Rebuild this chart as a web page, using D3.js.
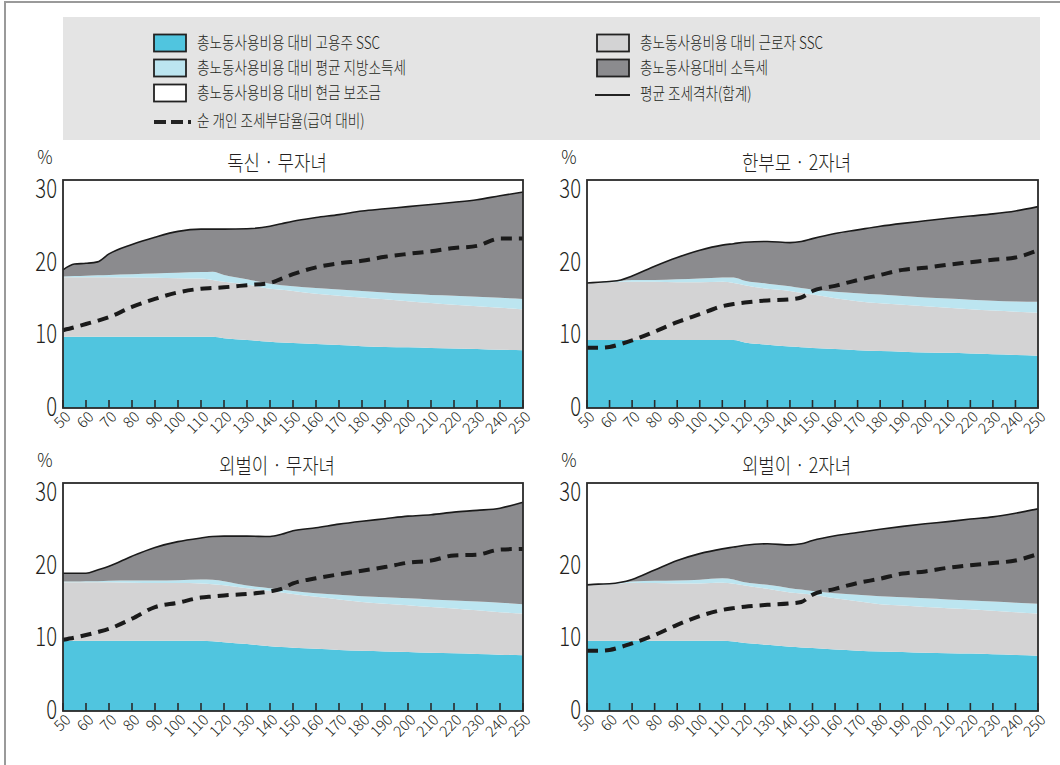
<!DOCTYPE html>
<html>
<head>
<meta charset="utf-8">
<script src="https://cdn.jsdelivr.net/npm/d3@7"></script>
<style>
  body { margin: 0; background: #fff; }
  svg { display: block; }
  text { font-family: 'Noto Sans CJK KR', 'Noto Sans', sans-serif; fill: #231f20; }
</style>
</head>
<body>
<svg id="chart" width="1060" height="765"></svg>
<script>
// ------- Data (wage level, % of average wage) -------

const incomeLevels = [50, 55, 60, 65, 70, 80, 90, 100, 110, 115, 120, 130, 140, 145, 150, 160, 170, 180, 190, 200, 210, 220, 230, 240, 250];
const xTickLabels = ['50', '60', '70', '80', '90', '100', '110', '120', '130', '140', '150', '160', '170', '180', '190', '200', '210', '220', '230', '240', '250'];
const yTickLabels = ['0', '10', '20', '30'];

const panelTitles = ['독신 · 무자녀', '한부모 · 2자녀', '외벌이 · 무자녀', '외벌이 · 2자녀'];

// 독신 · 무자녀
const singleEmployerSSC = [9.8, 9.8, 9.8, 9.8, 9.8, 9.8, 9.8, 9.8, 9.8, 9.8, 9.6, 9.35, 9.1, 9.0, 8.95, 8.8, 8.65, 8.5, 8.4, 8.35, 8.25, 8.2, 8.1, 8.0, 7.95];
const singleEmployeeSSC = [8.2, 8.2, 8.2, 8.2, 8.2, 8.15, 8.1, 8.05, 8.0, 7.8, 7.75, 7.65, 7.3, 7.25, 7.15, 6.9, 6.8, 6.7, 6.55, 6.35, 6.2, 6.0, 5.9, 5.8, 5.6];
const singleLocalTax = [0.1, 0.15, 0.2, 0.25, 0.3, 0.45, 0.6, 0.75, 0.9, 1.15, 0.95, 0.7, 0.7, 0.65, 0.65, 0.8, 0.85, 0.9, 0.95, 1.0, 1.1, 1.25, 1.3, 1.35, 1.45];
const singleIncomeTax = [0.9, 1.65, 1.7, 1.85, 2.9, 4.1, 5.0, 5.7, 5.9, 5.85, 6.3, 6.95, 7.9, 8.45, 8.95, 9.7, 10.3, 11.0, 11.5, 12.0, 12.45, 12.85, 13.35, 14.05, 14.7];
const singleNetRate = [10.7, 11.1, 11.55, 12.0, 12.5, 13.9, 15.0, 15.9, 16.4, 16.5, 16.6, 16.9, 17.2, 17.8, 18.4, 19.35, 19.9, 20.25, 20.8, 21.2, 21.55, 22.0, 22.3, 23.3, 23.3];

// 한부모 · 2자녀
const loneParentEmployerSSC = [9.35, 9.35, 9.35, 9.35, 9.35, 9.35, 9.35, 9.35, 9.35, 9.35, 9.0, 8.7, 8.45, 8.35, 8.25, 8.1, 7.95, 7.85, 7.75, 7.65, 7.6, 7.5, 7.4, 7.3, 7.2];
const loneParentEmployeeSSC = [7.85, 7.9, 7.95, 8.0, 8.0, 8.0, 7.95, 7.95, 8.0, 7.85, 7.9, 7.7, 7.65, 7.5, 7.35, 7.0, 6.75, 6.55, 6.45, 6.35, 6.2, 6.1, 6.0, 5.95, 5.9];
const loneParentLocalTax = [0.0, 0.05, 0.1, 0.15, 0.25, 0.25, 0.4, 0.5, 0.6, 0.75, 0.6, 0.7, 0.65, 0.65, 0.7, 0.9, 1.1, 1.2, 1.2, 1.2, 1.25, 1.3, 1.35, 1.4, 1.5];
const loneParentIncomeTax = [0.0, 0.0, 0.0, 0.1, 0.55, 1.9, 3.0, 3.9, 4.45, 4.65, 5.3, 5.8, 6.0, 6.4, 7.0, 8.0, 8.7, 9.4, 10.0, 10.55, 11.05, 11.5, 11.95, 12.45, 13.1];
const loneParentNetRate = [8.3, 8.3, 8.4, 8.8, 9.3, 10.5, 11.8, 12.9, 14.0, 14.3, 14.5, 14.8, 14.95, 15.2, 16.1, 16.8, 17.6, 18.3, 19.0, 19.3, 19.7, 20.05, 20.4, 20.7, 21.7];

// 외벌이 · 무자녀
const oneEarnerEmployerSSC = [9.67, 9.67, 9.67, 9.67, 9.67, 9.67, 9.67, 9.67, 9.67, 9.6, 9.45, 9.2, 8.9, 8.8, 8.7, 8.55, 8.4, 8.3, 8.2, 8.1, 8.0, 7.95, 7.85, 7.75, 7.67];
const oneEarnerEmployeeSSC = [8.03, 8.03, 8.03, 8.03, 8.03, 7.98, 7.93, 7.93, 7.88, 7.85, 7.85, 7.7, 7.6, 7.5, 7.4, 7.15, 6.95, 6.7, 6.55, 6.45, 6.3, 6.15, 6.0, 5.85, 5.73];
const oneEarnerLocalTax = [0.1, 0.1, 0.15, 0.15, 0.2, 0.3, 0.35, 0.4, 0.55, 0.6, 0.55, 0.35, 0.4, 0.4, 0.4, 0.5, 0.65, 0.8, 0.9, 0.95, 1.05, 1.1, 1.2, 1.3, 1.3];
const oneEarnerIncomeTax = [1.15, 1.15, 1.1, 1.55, 2.0, 3.35, 4.55, 5.3, 5.7, 5.95, 6.2, 6.8, 7.1, 7.6, 8.3, 9.0, 9.7, 10.3, 10.8, 11.3, 11.65, 12.15, 12.55, 13.0, 14.0];
const oneEarnerNetRate = [9.8, 10.1, 10.45, 10.85, 11.3, 12.7, 14.3, 14.9, 15.6, 15.75, 15.9, 16.1, 16.45, 16.8, 17.55, 18.25, 18.8, 19.3, 19.8, 20.4, 20.7, 21.4, 21.5, 22.2, 22.3];

// 외벌이 · 2자녀
const oneEarnerKidsEmployerSSC = [9.67, 9.67, 9.67, 9.67, 9.67, 9.67, 9.67, 9.67, 9.67, 9.55, 9.35, 9.1, 8.85, 8.75, 8.65, 8.45, 8.3, 8.2, 8.1, 8.0, 7.95, 7.9, 7.8, 7.7, 7.6];
const oneEarnerKidsEmployeeSSC = [7.68, 7.73, 7.78, 7.88, 7.98, 7.93, 7.88, 7.88, 7.98, 7.95, 7.9, 7.7, 7.45, 7.4, 7.35, 7.05, 6.8, 6.5, 6.4, 6.3, 6.2, 6.1, 6.0, 5.9, 5.8];
const oneEarnerKidsLocalTax = [0.0, 0.05, 0.05, 0.1, 0.15, 0.3, 0.4, 0.5, 0.6, 0.6, 0.45, 0.55, 0.6, 0.55, 0.5, 0.7, 0.9, 1.1, 1.15, 1.2, 1.2, 1.2, 1.25, 1.3, 1.35];
const oneEarnerKidsIncomeTax = [0.0, 0.0, 0.0, 0.05, 0.3, 1.5, 2.75, 3.6, 4.05, 4.45, 5.1, 5.65, 5.95, 6.3, 6.95, 7.9, 8.55, 9.2, 9.75, 10.25, 10.7, 11.2, 11.65, 12.3, 13.05];
const oneEarnerKidsNetRate = [8.3, 8.3, 8.4, 8.8, 9.3, 10.45, 11.85, 13.05, 13.9, 14.15, 14.35, 14.6, 14.8, 15.0, 16.0, 16.8, 17.6, 18.2, 18.9, 19.2, 19.7, 20.05, 20.35, 20.7, 21.6];

const legendLabels = [
    '총노동사용비용 대비 고용주 SSC',
    '총노동사용비용 대비 평균 지방소득세',
    '총노동사용비용 대비 현금 보조금',
    '순 개인 조세부담율(급여 대비)',
    '총노동사용비용 대비 근로자 SSC',
    '총노동사용대비 소득세',
    '평균 조세격차(합계)'
];

// ------- Styles -------

const keys = ['employer', 'employee', 'local', 'income'];
const colours = {
    employer: '#50c5df',
    employee: '#d3d3d4',
    local: '#bce5f0',
    income: '#8b8b8e',
    cash: '#ffffff'
};

const svg = d3.select('#chart');

// page frame (only top and left edges show)
svg.append('rect')
    .attr('x', 5).attr('y', 2)
    .attr('width', 1100).attr('height', 800)
    .attr('fill', 'none')
    .attr('stroke', '#9a9a9a')
    .attr('stroke-width', 2);

// condensed text helper
const condText = (parent, x, y, str, size, sx, anchor) =>
    parent.append('text')
        .attr('transform', `translate(${x}, ${y}) scale(${sx}, 1)`)
        .attr('text-anchor', anchor || 'start')
        .attr('dy', '0.35em')
        .attr('font-size', size)
        .attr('font-weight', 300)
        .text(str);

// ------- Legend -------

const legend = svg.append('g').attr('class', 'legend');

legend.append('rect')
    .attr('x', 63).attr('y', 17)
    .attr('width', 977).attr('height', 123)
    .attr('fill', '#e4e4e4');

const swatchItems = [
    {label: legendLabels[0], fill: colours.employer, x: 154, y: 43},
    {label: legendLabels[1], fill: colours.local, x: 154, y: 68},
    {label: legendLabels[2], fill: colours.cash, x: 154, y: 93},
    {label: legendLabels[4], fill: colours.employee, x: 597, y: 43},
    {label: legendLabels[5], fill: colours.income, x: 597, y: 68}
];

swatchItems.forEach(d => {
    legend.append('rect')
        .attr('x', d.x).attr('y', d.y - 8.5)
        .attr('width', 32).attr('height', 17)
        .attr('fill', d.fill)
        .attr('stroke', '#222')
        .attr('stroke-width', 1.8);
    condText(legend, d.x + 43, d.y, d.label, 17, 0.8);
});

legend.append('line')
    .attr('x1', 154).attr('x2', 194)
    .attr('y1', 122).attr('y2', 122)
    .attr('stroke', '#222')
    .attr('stroke-width', 4)
    .attr('stroke-dasharray', '12 5 12 5 3 30');
condText(legend, 197, 121, legendLabels[3], 17, 0.8);

legend.append('line')
    .attr('x1', 595).attr('x2', 630)
    .attr('y1', 95).attr('y2', 95)
    .attr('stroke', '#222')
    .attr('stroke-width', 2);
condText(legend, 640, 94, legendLabels[6], 17, 0.8);

// ------- Panels -------

const panelData = [
    [singleEmployerSSC, singleEmployeeSSC, singleLocalTax, singleIncomeTax, singleNetRate],
    [loneParentEmployerSSC, loneParentEmployeeSSC, loneParentLocalTax, loneParentIncomeTax, loneParentNetRate],
    [oneEarnerEmployerSSC, oneEarnerEmployeeSSC, oneEarnerLocalTax, oneEarnerIncomeTax, oneEarnerNetRate],
    [oneEarnerKidsEmployerSSC, oneEarnerKidsEmployeeSSC, oneEarnerKidsLocalTax, oneEarnerKidsIncomeTax, oneEarnerKidsNetRate]
];

const panelBoxes = [
    {left: 63, right: 523, top: 180},
    {left: 587, right: 1038, top: 180},
    {left: 63, right: 523, top: 483},
    {left: 587, right: 1038, top: 483}
];

const plotHeight = 228;
const pxPerUnit = 7.27;

panelBoxes.forEach((box, p) => {
    const [employer, employee, local, income, netRate] = panelData[p];
    const rows = incomeLevels.map((x, i) => ({
        x, employer: employer[i], employee: employee[i], local: local[i], income: income[i], net: netRate[i]
    }));

    const innerWidth = box.right - box.left;

    const g = svg.append('g')
        .attr('class', 'panel')
        .attr('transform', `translate(${box.left}, ${box.top})`);

    const xScale = d3.scaleLinear().domain([50, 250]).range([0, innerWidth]);
    const yScale = d3.scaleLinear().domain([0, plotHeight / pxPerUnit]).range([plotHeight, 0]);

    const series = d3.stack().keys(keys)(rows);

    const area = d3.area()
        .curve(d3.curveMonotoneX)
        .x(d => xScale(d.data.x))
        .y0(d => yScale(d[0]))
        .y1(d => yScale(d[1]));

    g.selectAll('path.layer')
        .data(series)
        .enter()
        .append('path')
            .attr('class', 'layer')
            .attr('fill', d => colours[d.key])
            .attr('d', area);

    // total tax wedge line
    const topLine = d3.line()
        .curve(d3.curveMonotoneX)
        .x(d => xScale(d.data.x))
        .y(d => yScale(d[1]));

    g.append('path')
        .datum(series[series.length - 1])
        .attr('fill', 'none')
        .attr('stroke', '#1a1a1a')
        .attr('stroke-width', 1.6)
        .attr('d', topLine);

    // net personal tax rate
    const netLine = d3.line()
        .curve(d3.curveMonotoneX)
        .x(d => xScale(d.x))
        .y(d => yScale(d.net));

    g.append('path')
        .datum(rows)
        .attr('fill', 'none')
        .attr('stroke', '#1a1a1a')
        .attr('stroke-width', 4)
        .attr('stroke-dasharray', '11 7')
        .attr('d', netLine);

    // frame
    g.append('rect')
        .attr('width', innerWidth)
        .attr('height', plotHeight)
        .attr('fill', 'none')
        .attr('stroke', '#2a2a2a')
        .attr('stroke-width', 1.8);

    // x ticks (inside) and rotated labels
    const xAxisG = g.append('g').attr('transform', `translate(0, ${plotHeight})`);
    xTickLabels.forEach(t => {
        const tx = xScale(+t);
        xAxisG.append('line')
            .attr('x1', tx).attr('x2', tx)
            .attr('y1', 0).attr('y2', -8)
            .attr('stroke', '#2a2a2a')
            .attr('stroke-width', 1.6);
        xAxisG.append('text')
            .attr('transform', `translate(${tx + 5}, 6) rotate(-45)`)
            .attr('text-anchor', 'end')
            .attr('dy', '0.35em')
            .attr('font-size', 15)
            .attr('font-weight', 300)
            .text(t);
    });

    // y labels
    yTickLabels.forEach(t => {
        condText(g, -6, yScale(+t) - 1, t, 26, 0.78, 'end');
    });

    condText(g, -18, -23, '%', 19, 0.9, 'middle');
    condText(g, innerWidth / 2 - 16, -17, panelTitles[p], 21, 0.85, 'middle');
});
</script>
</body>
</html>
